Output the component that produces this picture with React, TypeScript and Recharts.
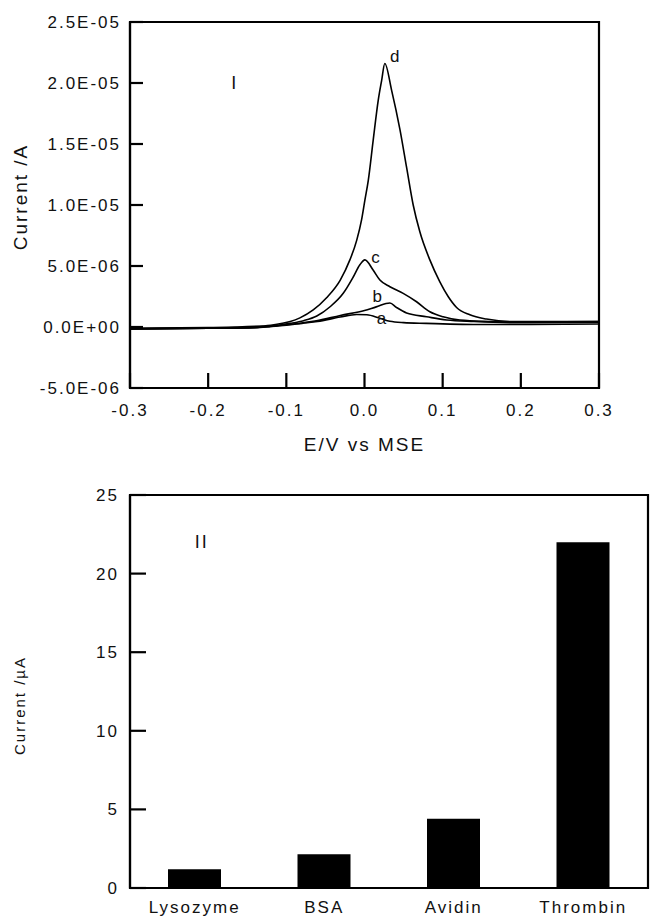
import {
  Bar,
  BarChart,
  Line,
  LineChart,
  ReferenceArea,
  ReferenceDot,
  XAxis,
  YAxis,
} from "recharts";

// Panel I: potential (V vs MSE) and current (units of 1E-06 A)
const aE = [-0.3, -0.2, -0.14, -0.12, -0.1, -0.08, -0.06, -0.031, -0.01, 0.003, 0.0197, 0.0325, 0.05, 0.079, 0.15, 0.2, 0.3];
const aI = [-0.15, -0.1, -0.05, 0.04, 0.15, 0.3, 0.45, 0.82, 1.02, 1.0, 0.71, 0.47, 0.36, 0.3, 0.2, 0.2, 0.25];

const bE = [-0.3, -0.2, -0.14, -0.12, -0.1, -0.08, -0.06, -0.031, 0.0, 0.015, 0.0325, 0.041, 0.0538, 0.0794, 0.105, 0.14, 0.2, 0.3];
const bI = [-0.15, -0.1, -0.05, 0.05, 0.18, 0.33, 0.52, 0.95, 1.35, 1.65, 1.97, 1.6, 1.15, 0.84, 0.57, 0.45, 0.35, 0.4];

const cE = [-0.3, -0.2, -0.13, -0.11, -0.095, -0.078, -0.061, -0.044, -0.0272, -0.0144, -0.0059, 0.0005, 0.011, 0.0197, 0.0325, 0.0495, 0.0666, 0.0836, 0.1006, 0.122, 0.16, 0.2, 0.3];
const cI = [-0.15, -0.1, 0.05, 0.15, 0.3, 0.52, 0.9, 1.66, 2.76, 4.1, 5.1, 5.5, 4.67, 3.85, 3.3, 2.76, 2.07, 1.25, 0.84, 0.57, 0.45, 0.4, 0.45];

const dE = [-0.3, -0.2, -0.14, -0.12, -0.105, -0.095, -0.0826, -0.0656, -0.0485, -0.031, -0.0187, -0.01, -0.0037, 0.0005, 0.0048, 0.0111, 0.0176, 0.0219, 0.026, 0.0347, 0.0453, 0.0538, 0.0623, 0.0708, 0.0836, 0.0964, 0.107, 0.1178, 0.1348, 0.156, 0.186, 0.3];
const dI = [-0.1, -0.05, 0.05, 0.15, 0.3, 0.45, 0.75, 1.4, 2.4, 3.85, 5.5, 7.1, 8.8, 10.4, 12.0, 15.3, 18.6, 20.2, 21.6, 19.4, 16.2, 13.1, 10.0, 7.8, 5.5, 3.7, 2.5, 1.6, 1.0, 0.65, 0.45, 0.45];

const eTicks = [-0.3, -0.2, -0.1, 0, 0.1, 0.2, 0.3];
const iTicks = [-5, 0, 5, 10, 15, 20, 25];

const curveTags = [
  { text: "d", e: 0.04, i: 22.2 },
  { text: "c", e: 0.0155, i: 5.74 },
  { text: "b", e: 0.0175, i: 2.54 },
  { text: "a", e: 0.023, i: 0.76 },
  { text: "I", e: -0.166, i: 20.0 },
];

// Panel II: peak current (µA) per protein
const proteins = ["Lysozyme", "BSA", "Avidin", "Thrombin"];
const peakCurrent = [1.19, 2.14, 4.41, 22.0];
const barTicks = [0, 5, 10, 15, 20, 25];

const zip = (es: number[], is: number[]) => es.map((e, k) => ({ e, i: is[k] }));
const curves = [zip(aE, aI), zip(bE, bI), zip(cE, cI), zip(dE, dI)];
const barData = proteins.map((name, k) => ({ name, current: peakCurrent[k] }));

const fmtSci = (v: number) => {
  if (v === 0) return "0.0E+00";
  const [m, e] = (v * 1e-6).toExponential(1).split("e");
  const n = Number(e);
  return `${m}E${n < 0 ? "-" : "+"}${String(Math.abs(n)).padStart(2, "0")}`;
};

const INK = "#111";
const axisStyle = { stroke: "#000", strokeWidth: 2.2 };
const tickStyle = { fill: INK, fontSize: 17 };

export default function App() {
  return (
    <div
      style={{
        position: "absolute",
        left: 0,
        top: 0,
        width: 650,
        height: 917,
        overflow: "hidden",
        background: "#fff",
        fontFamily: 'Arial, "Liberation Sans", Helvetica, sans-serif',
        letterSpacing: "2px",
      }}
    >
      <div style={{ position: "absolute", left: 0, top: 0 }}>
        <LineChart width={650} height={470} margin={{ top: 22, right: 51, bottom: 42, left: 20 }}>
          <XAxis
            type="number"
            dataKey="e"
            domain={[-0.3, 0.3]}
            ticks={eTicks}
            tickFormatter={(v: number) => v.toFixed(1)}
            height={40}
            tickSize={-15}
            tickMargin={31}
            axisLine={axisStyle}
            tickLine={axisStyle}
            tick={tickStyle}
            allowDataOverflow
            label={{ value: "E/V vs MSE", position: "bottom", offset: 10, fontSize: 19, fill: INK }}
          />
          <YAxis
            type="number"
            domain={[-5, 25]}
            ticks={iTicks}
            tickFormatter={fmtSci}
            width={110}
            tickSize={-13}
            tickMargin={22}
            axisLine={axisStyle}
            tickLine={axisStyle}
            tick={tickStyle}
            allowDataOverflow
            label={{
              value: "Current /A",
              angle: -90,
              position: "insideLeft",
              offset: 0,
              dy: -8,
              fontSize: 19,
              fill: INK,
              style: { textAnchor: "middle" },
            }}
          />
          <ReferenceArea y1={-5} y2={25} fill="none" stroke="#000" strokeWidth={2.2} />
          {curves.map((pts, k) => (
            <Line
              key={k}
              data={pts}
              dataKey="i"
              type="monotone"
              stroke="#000"
              strokeWidth={1.6}
              dot={false}
              isAnimationActive={false}
            />
          ))}
          {curveTags.map((t) => (
            <ReferenceDot
              key={t.text}
              x={t.e}
              y={t.i}
              r={0}
              fill="none"
              stroke="none"
              label={{ value: t.text, position: "center", fontSize: t.text === "I" ? 18 : 17, fill: INK }}
            />
          ))}
        </LineChart>
      </div>

      <div style={{ position: "absolute", left: 0, top: 470 }}>
        <BarChart width={650} height={447} data={barData} margin={{ top: 25, right: 2, bottom: 0, left: 20 }}>
          <XAxis
            dataKey="name"
            height={29}
            tickLine={false}
            tickSize={0}
            tickMargin={13}
            axisLine={axisStyle}
            tick={tickStyle}
            interval={0}
          />
          <YAxis
            type="number"
            domain={[0, 25]}
            ticks={barTicks}
            width={110}
            tickSize={-16}
            tickMargin={27}
            axisLine={axisStyle}
            tickLine={axisStyle}
            tick={tickStyle}
            label={{
              value: "Current /µA",
              angle: -90,
              position: "insideLeft",
              offset: 0,
              dy: 14,
              fontSize: 15,
              fill: INK,
              style: { textAnchor: "middle" },
            }}
          />
          <ReferenceArea y1={0} y2={25} fill="none" stroke="#000" strokeWidth={2.2} />
          <Bar dataKey="current" fill="#000" barSize={53} isAnimationActive={false} />
          <ReferenceDot
            x="Lysozyme"
            y={22.03}
            r={0}
            fill="none"
            stroke="none"
            label={{ value: "II", position: "right", offset: 0, fontSize: 18, fill: INK }}
          />
        </BarChart>
      </div>
    </div>
  );
}
